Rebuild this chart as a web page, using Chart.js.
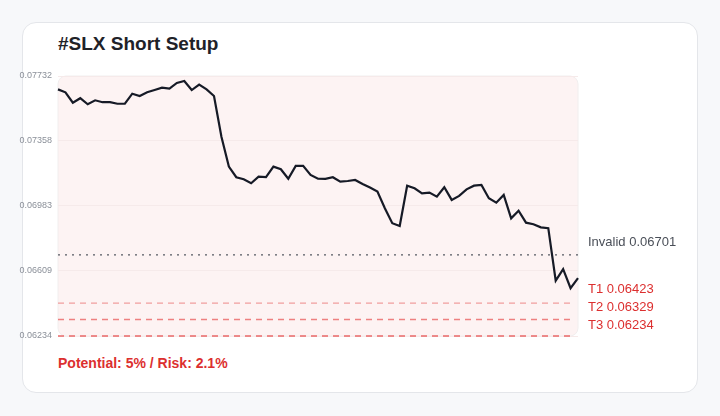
<!DOCTYPE html>
<html>
<head>
<meta charset="utf-8">
<script src="https://cdn.jsdelivr.net/npm/chart.js@4"></script>
<style>
  body { margin: 0; background: #f7f8fa; font-family: "Liberation Sans", Arial, sans-serif; }
  .card { position: absolute; left: 22px; top: 22px; width: 674px; height: 369px; background: #fff;
          border: 1px solid #e4e6ea; border-radius: 14px; }
  h1 { position: absolute; left: 58px; top: 33px; margin: 0; font-size: 19px; font-weight: bold; color: #1f2228; }
  .foot { position: absolute; left: 58px; top: 355px; font-size: 14px; font-weight: bold; color: #dc2f2f; }
  #wrap { position: absolute; left: 0; top: 60px; width: 720px; height: 290px; }
</style>
</head>
<body>
<div class="card"></div>
<h1>#SLX Short Setup</h1>
<div id="wrap"><canvas id="slxChart"></canvas></div>
<div class="foot">Potential: 5% / Risk: 2.1%</div>
<script>
const prices = [
  0.07655, 0.07638, 0.07578, 0.07604, 0.07569, 0.07592, 0.07581, 0.07581, 0.07572, 0.07572,
  0.07630, 0.07617, 0.07638, 0.07651, 0.07665, 0.07659, 0.07692, 0.07703, 0.07651, 0.07682,
  0.07655, 0.07617, 0.07382, 0.07210, 0.07149, 0.07137, 0.07114, 0.07152, 0.07149, 0.07210,
  0.07195, 0.07140, 0.07214, 0.07214, 0.07162, 0.07140, 0.07139, 0.07149, 0.07123, 0.07127,
  0.07133, 0.07110, 0.07089, 0.07066, 0.06970, 0.06884, 0.06868, 0.07100, 0.07085, 0.07056,
  0.07060, 0.07037, 0.07091, 0.07018, 0.07041, 0.07079, 0.07100, 0.07104, 0.07028, 0.07002,
  0.07047, 0.06912, 0.06956, 0.06887, 0.06878, 0.06860, 0.06855, 0.06553, 0.06619, 0.06509,
  0.06567
];
const labels = prices.map((_, i) => i);
const yTicks = [0.06234, 0.06609, 0.06983, 0.07358, 0.07732];
const invalidLevel = 0.06701;
const targetNames = ['T1', 'T2', 'T3'];
const targetLevels = [0.06423, 0.06329, 0.06234];
const targetColors = ['rgba(232,90,90,0.55)', 'rgba(232,90,90,0.75)', 'rgba(232,90,90,0.9)'];

const levelsPlugin = {
  id: 'levels',
  beforeDraw(chart) {
    const { ctx, chartArea: a } = chart;
    ctx.save();
    ctx.fillStyle = '#fdf3f3';
    ctx.strokeStyle = '#f1eeee';
    ctx.lineWidth = 1;
    ctx.beginPath();
    ctx.roundRect(a.left, a.top, a.right - a.left, a.bottom - a.top, 8);
    ctx.fill();
    ctx.stroke();
    ctx.restore();
  },
  afterDatasetsDraw(chart) {
    const { ctx, chartArea: a, scales: { y } } = chart;
    ctx.save();
    ctx.lineWidth = 1.3;
    ctx.strokeStyle = '#555a63';
    ctx.setLineDash([2, 5]);
    let py = y.getPixelForValue(invalidLevel);
    ctx.beginPath(); ctx.moveTo(a.left, py); ctx.lineTo(a.right, py); ctx.stroke();
    ctx.setLineDash([6, 5]);
    targetLevels.forEach((v, i) => {
      const p = y.getPixelForValue(v);
      ctx.strokeStyle = targetColors[i];
      ctx.beginPath(); ctx.moveTo(a.left, p); ctx.lineTo(a.right - 6, p); ctx.stroke();
    });
    ctx.font = '13px "Liberation Sans", Arial, sans-serif';
    ctx.textBaseline = 'middle';
    ctx.fillStyle = '#4a4f58';
    ctx.fillText('Invalid ' + invalidLevel.toFixed(5), a.right + 10, py - 13);
    ctx.fillStyle = '#dc2f2f';
    targetLevels.forEach((v, i) => {
      ctx.fillText(targetNames[i] + ' ' + v.toFixed(5), a.right + 10, 229 + i * 18);
    });
    ctx.restore();
  }
};

new Chart(document.getElementById('slxChart'), {
  type: 'line',
  data: {
    labels: labels,
    datasets: [{
      data: prices,
      borderColor: '#161a26',
      borderWidth: 2.2,
      pointRadius: 0,
      tension: 0
    }]
  },
  options: {
    responsive: true,
    maintainAspectRatio: false,
    animation: false,
    layout: { padding: { left: 0, right: 142, top: 16, bottom: 14 } },
    plugins: { legend: { display: false }, tooltip: { enabled: false } },
    scales: {
      x: { display: false, offset: false },
      y: {
        min: 0.06234,
        max: 0.07732,
        afterBuildTicks: s => { s.ticks = yTicks.map(v => ({ value: v })); },
        afterFit: s => { s.width = 58; },
        border: { display: false },
        grid: { color: '#f6eaea', drawTicks: false },
        ticks: {
          padding: 6,
          color: '#8b9099',
          font: { size: 9, family: '"Liberation Sans", Arial, sans-serif' },
          callback: v => v.toFixed(5)
        }
      }
    }
  },
  plugins: [levelsPlugin]
});
</script>
</body>
</html>
